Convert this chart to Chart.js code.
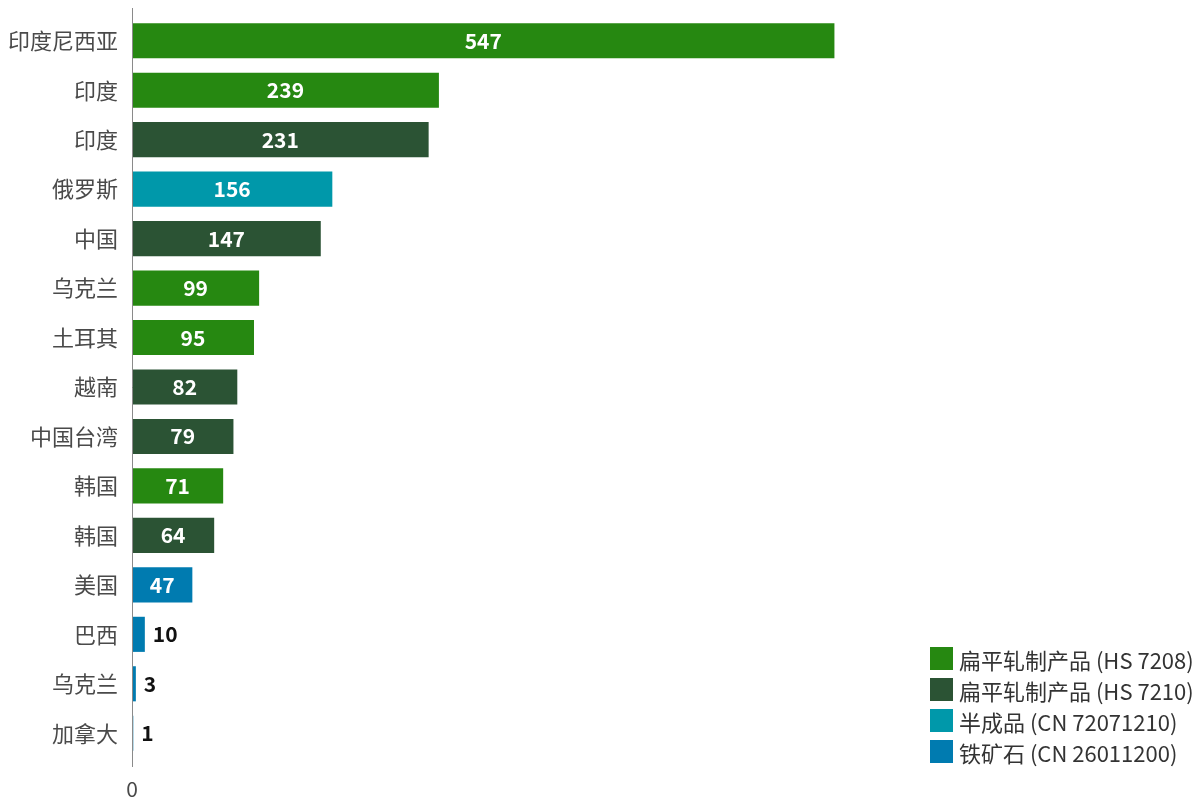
<!DOCTYPE html>
<html><head><meta charset="utf-8">
<script src="https://cdn.jsdelivr.net/npm/chart.js@4/dist/chart.umd.min.js"></script>
<style>
html,body{margin:0;padding:0;background:#fff;}
#wrap{position:relative;width:1203px;height:800px;}
#legend{position:absolute;left:930px;top:643px;font-family:"Noto Sans CJK SC","Noto Sans",sans-serif;font-size:22px;color:#333;}
.li{display:flex;align-items:center;height:31px;white-space:nowrap;}
.sw{width:23px;height:23px;margin-right:6px;flex:none;}
</style></head><body>
<div id="wrap"><canvas id="c" width="1203" height="800"></canvas><div id="legend"></div></div>
<script>
const categories = ["印度尼西亚","印度","印度","俄罗斯","中国","乌克兰","土耳其","越南","中国台湾","韩国","韩国","美国","巴西","乌克兰","加拿大"];
const values = [547,239,231,156,147,99,95,82,79,71,64,47,10,3,1];
const productIndex = [0,0,1,2,1,0,0,1,1,0,1,3,3,3,3];
const productNames = ["扁平轧制产品 (HS 7208)","扁平轧制产品 (HS 7210)","半成品 (CN 72071210)","铁矿石 (CN 26011200)"];
const productColors = ["#268811","#2b5334","#0098aa","#007bb0"];

const legendEl = document.getElementById('legend');
productNames.forEach((n,i)=>{
  const d=document.createElement('div');d.className='li';
  d.innerHTML='<span class="sw" style="background:'+productColors[i]+'"></span><span>'+n+'</span>';
  legendEl.appendChild(d);
});

const FONT = '"Noto Sans CJK SC","Noto Sans",sans-serif';
const labelPlugin = {
  id:'lbl',
  afterDatasetsDraw(chart){
    const ctx=chart.ctx;
    const meta=chart.getDatasetMeta(0);
    const ca=chart.chartArea;
    ctx.save();
    ctx.strokeStyle='#8a8a8a';ctx.lineWidth=1;
    ctx.beginPath();ctx.moveTo(ca.left+0.5,ca.top-8);ctx.lineTo(ca.left+0.5,ca.bottom+9);ctx.stroke();
    ctx.font='bold 21px '+FONT;
    ctx.textBaseline='middle';
    meta.data.forEach((bar,i)=>{
      const w=bar.x-bar.base;
      const txt=String(values[i]);
      const tw=ctx.measureText(txt).width;
      if(w>tw+12){
        ctx.fillStyle='#fff';ctx.textAlign='center';
        ctx.fillText(txt,(bar.x+bar.base)/2,bar.y);
      }else{
        ctx.fillStyle='#111';ctx.textAlign='left';
        ctx.fillText(txt,bar.x+8,bar.y);
      }
    });
    ctx.restore();
  }
};

new Chart(document.getElementById('c'),{
  type:'bar',
  data:{labels:categories,datasets:[{data:values,backgroundColor:productIndex.map(i=>productColors[i]),barPercentage:0.71,categoryPercentage:1}]},
  options:{
    indexAxis:'y',responsive:false,animation:false,
    layout:{padding:{top:16,right:15,bottom:0,left:0}},
    plugins:{legend:{display:false},tooltip:{enabled:false}},
    scales:{
      y:{
        grid:{display:false,drawTicks:false},border:{display:false},
        ticks:{font:{family:FONT,size:22},color:'#4a4a4a',padding:14},
        afterFit(s){s.width=132;s.paddingTop=0;s.paddingBottom=0;}
      },
      x:{
        min:0,max:820,
        grid:{display:false,drawTicks:false},border:{display:false},
        ticks:{stepSize:1000,font:{family:FONT,size:21},color:'#4a4a4a',padding:18,callback:(v)=>v===0?'0':''},
        afterFit(s){s.height=42;}
      }
    }
  },
  plugins:[labelPlugin]
});
</script></body></html>
